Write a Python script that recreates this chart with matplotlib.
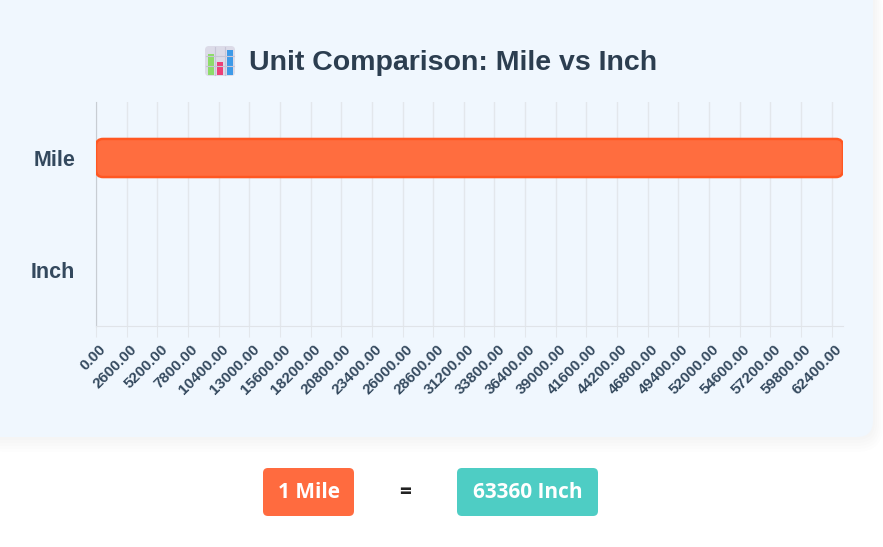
import matplotlib
matplotlib.use('Agg')
import matplotlib.pyplot as plt
from matplotlib.patches import FancyBboxPatch, Rectangle
from matplotlib.transforms import ScaledTranslation

# data
units = ['Mile', 'Inch']
values = [63360, 1]
tick_step = 2600
x_max = 63360
from_label = '1 Mile'
to_label = '63360 Inch'
title = 'Unit Comparison: Mile vs Inch'

W, H = 883, 547
fig = plt.figure(figsize=(W / 100, H / 100), dpi=100)
fig.patch.set_facecolor('white')

# background layer in pixel coordinates
bg = fig.add_axes([0, 0, 1, 1], zorder=0)
bg.set_xlim(0, W)
bg.set_ylim(H, 0)
bg.axis('off')

# soft shadow + card
for i in range(5):
    g = 2 + i * 2
    bg.add_patch(FancyBboxPatch((-20, -20 + g * 0.5), 893 + g, 457 + g,
                                boxstyle='round,pad=0,rounding_size=%d' % (16 + g),
                                fc='#2c3e50', ec='none', alpha=0.007))
bg.add_patch(FancyBboxPatch((-20, -20), 893, 457,
                            boxstyle='round,pad=0,rounding_size=16',
                            fc='#f0f7fe', ec='none'))

# chart emoji icon
bg.add_patch(FancyBboxPatch((205, 46), 30, 30, boxstyle='round,pad=0,rounding_size=4',
                            fc='#dcdbe8', ec='none'))
for gx in [215, 225]:
    bg.plot([gx, gx], [47, 75], color='#c6c5d6', lw=0.8)
for gy in [56, 66]:
    bg.plot([206, 234], [gy, gy], color='#c6c5d6', lw=0.8)
bg.add_patch(Rectangle((207.5, 54), 6, 21, fc='#8edc6a', ec='none'))
bg.add_patch(Rectangle((217, 62), 6, 13, fc='#ec3f78', ec='none'))
bg.add_patch(Rectangle((226.5, 50), 6, 25, fc='#3d9ae8', ec='none'))

bg.text(249, 63, title, fontsize=20.5, fontweight='bold', color='#2c3e50',
        ha='left', va='center', family='Liberation Sans')

# bottom conversion badges
bg.add_patch(FancyBboxPatch((263, 468), 91, 48, boxstyle='round,pad=0,rounding_size=5',
                            fc='#ff6b3f', ec='none'))
bg.text(308.5, 493, from_label, fontsize=15, fontweight='bold', color='white',
        ha='center', va='center', family='Open Sans')
bg.text(405, 492, '=', fontsize=15, fontweight='bold', color='#222222',
        ha='center', va='center', family='Open Sans')
bg.add_patch(FancyBboxPatch((457, 468), 141, 48, boxstyle='round,pad=0,rounding_size=5',
                            fc='#4ecdc4', ec='none'))
bg.text(527.5, 493, to_label, fontsize=15, fontweight='bold', color='white',
        ha='center', va='center', family='Open Sans')

# main chart
ax = fig.add_axes([96 / W, 1 - 326 / H, (843 - 96) / W, (326 - 102) / H], zorder=1)
ax.patch.set_alpha(0)
ypos = list(range(len(units)))
bars = ax.barh(ypos, values, height=0.34, color='#ff6d3f')
ax.set_xlim(0, x_max)
ax.set_ylim(len(units) - 0.5, -0.5)

# rounded versions of the bars
px_x = x_max / (843 - 96)
px_y = 2.0 / (326 - 102)
for b in bars:
    b.set_visible(False)
    if b.get_width() < 2 * 6 * px_x:
        continue
    ax.add_patch(FancyBboxPatch((b.get_x(), b.get_y()), b.get_width(), b.get_height(),
                                boxstyle='round,pad=0,rounding_size=%f' % (7 * px_x),
                                mutation_aspect=px_y / px_x,
                                fc='#ff6d3f', ec='#ff5722', lw=1.8, zorder=3))

ticks = list(range(0, x_max, tick_step))
ax.set_xticks(ticks)
ax.set_xticklabels(['%.2f' % t for t in ticks])
ax.set_yticks(ypos)
ax.set_yticklabels(units)

ax.grid(axis='x', color='#e3e7ec', lw=1)
ax.set_axisbelow(True)
for s in ['top', 'right']:
    ax.spines[s].set_visible(False)
ax.spines['left'].set_color('#c8cdd3')
ax.spines['bottom'].set_color('#e0e4e9')
ax.tick_params(axis='x', length=8, color='#e3e7ec', pad=2)
ax.tick_params(axis='y', length=0, pad=15)

for lab in ax.get_xticklabels():
    lab.set_rotation(45)
    lab.set_ha('right')
    lab.set_va('center')
    lab.set_rotation_mode('anchor')
    lab.set_fontsize(11)
    lab.set_fontweight('bold')
    lab.set_color('#34495e')
    lab.set_family('Liberation Sans')
    lab.set_transform(lab.get_transform() + ScaledTranslation(8 / 100, -7 / 100, fig.dpi_scale_trans))
for lab in ax.get_yticklabels():
    lab.set_fontsize(15.5)
    lab.set_fontweight('bold')
    lab.set_color('#34495e')
    lab.set_family('Liberation Sans')

fig.savefig('out.png', dpi=100, facecolor='white')
